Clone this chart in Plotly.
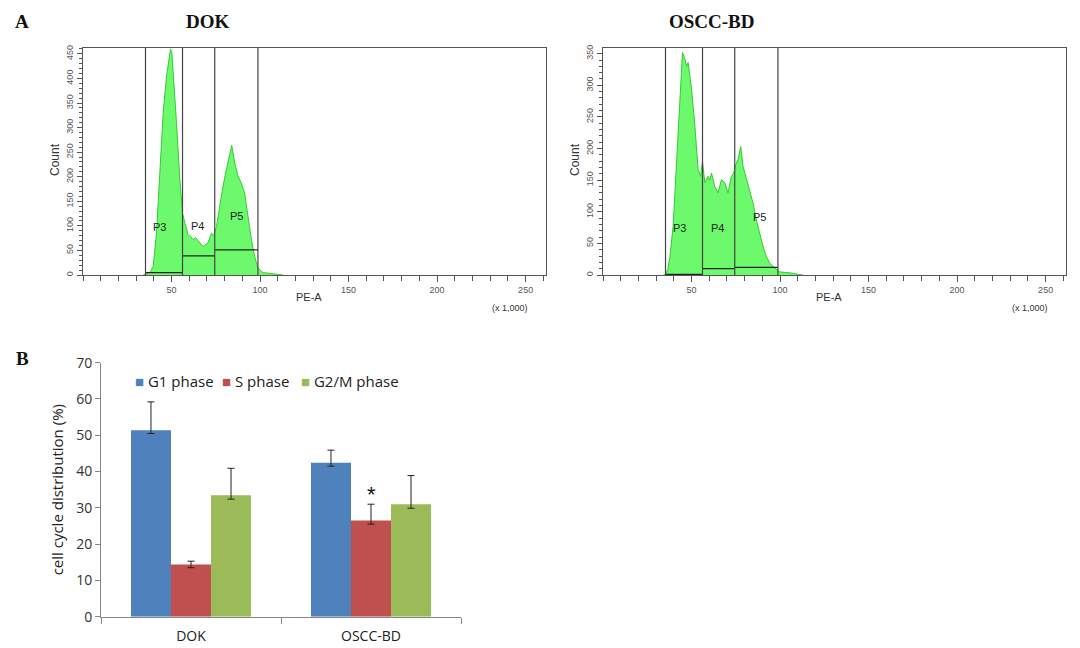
import plotly.graph_objects as go

# ---------------- Data ----------------
# Flow-cytometry histograms (PE-A x 1,000 vs Count)
dok_pe = [34, 36, 38, 39.6, 41.5, 43.4, 45.3, 47.2, 48.5, 49.4, 50.2, 50.9, 52.8, 54.7, 56.2,
          57.5, 59.4, 60.8, 62.2, 63.6, 65, 66.4, 67.8, 69.2, 70.6, 72.5, 73.8, 75.4, 77.2,
          79.1, 81, 82.9, 84, 85.7, 87.6, 89.4, 91.3, 93.2, 95.1, 97, 98.8, 101.6, 104, 107,
          110, 113]
dok_count = [0, 2, 6, 17, 85, 208, 331, 405, 440, 460, 452, 419, 310, 194, 126,
             106, 82, 78, 72, 76, 70, 66, 58, 62, 65, 85, 80, 99, 140,
             181, 215, 249, 264, 228, 201, 187, 167, 119, 72, 37, 14, 5, 4, 3,
             1, 0]

oscc_pe = [34, 35, 36.5, 37.8, 39.6, 41.5, 43.4, 44.9, 46.2, 47.2, 48.1, 49, 50, 51.9, 53.7,
           55.1, 56.2, 57.5, 59.4, 60.3, 61.3, 63.1, 65, 66.9, 68.8, 70.6, 72.5, 73.8, 75,
           76.3, 77.8, 79.1, 81, 82.9, 84.7, 86.6, 88.5, 90.4, 92.3, 94.1, 97, 99.8, 103,
           107, 110, 113]
oscc_count = [0, 0, 8, 29, 77, 172, 278, 352, 342, 330, 336, 318, 294, 236, 167,
              156, 180, 146, 156, 150, 161, 140, 130, 151, 146, 130, 156, 161, 175,
              183, 203, 172, 151, 130, 114, 87, 66, 45, 29, 19, 11, 5, 4,
              3, 1, 0]

gate_names = ["P3", "P4", "P5"]
gate_edges = [35.3, 56.2, 74.4, 98.8]
dok_gate_levels = [5, 39, 51]
oscc_gate_levels = [1, 10, 12]
dok_gate_label_pos = [(43.4, 98), (64.8, 100), (86.8, 121)]
oscc_gate_label_pos = [(43.4, 75), (64.8, 75), (88.5, 92)]

hist_ticks = [50, 100, 150, 200, 250]

# Bar chart (cell cycle distribution %)
groups = ["DOK", "OSCC-BD"]
phases = ["G1 phase", "S phase", "G2/M phase"]
g1_vals = [51.4, 42.4]
s_vals = [14.4, 26.5]
g2m_vals = [33.5, 31.0]
g1_err_up = [7.8, 3.5]
g1_err_dn = [0.9, 0.9]
s_err_up = [0.9, 4.5]
s_err_dn = [0.9, 1.0]
g2m_err_up = [7.4, 7.9]
g2m_err_dn = [1.1, 1.1]
phase_colors = ["#4F81BD", "#C0504D", "#9BBB59"]

# ---------------- Figure ----------------
OFF = 8                      # default page body margin
W, H = 1080 - 2 * OFF, 648 - OFF
fig = go.Figure()

def px_x(p):
    return (p - OFF) / W

def px_y(p):
    return 1 - (p - OFF) / H

fill_col = "rgba(108,250,108,1)"
line_col = "#33CC33"

# Histograms
for xs, ys, xa, ya in [(dok_pe, dok_count, "x", "y"), (oscc_pe, oscc_count, "x2", "y2")]:
    fig.add_trace(go.Scatter(x=xs, y=ys, xaxis=xa, yaxis=ya, mode="lines",
                             fill="tozeroy", fillcolor=fill_col,
                             line=dict(color=line_col, width=1), showlegend=False,
                             hoverinfo="skip"))

# Gate horizontal bars
for levels, xa, ya in [(dok_gate_levels, "x", "y"), (oscc_gate_levels, "x2", "y2")]:
    for i, lv in enumerate(levels):
        fig.add_trace(go.Scatter(x=[gate_edges[i], gate_edges[i + 1]], y=[lv, lv],
                                 xaxis=xa, yaxis=ya, mode="lines",
                                 line=dict(color="#222222", width=1.2),
                                 showlegend=False, hoverinfo="skip"))

# Gate vertical lines
for xa, ya in [("x", "y"), ("x2", "y2")]:
    for e in gate_edges:
        fig.add_shape(type="line", xref=xa, yref=ya + " domain", x0=e, x1=e, y0=0, y1=1,
                      line=dict(color="#444444", width=1.2))

# Gate labels
for pos, xa, ya in [(dok_gate_label_pos, "x", "y"), (oscc_gate_label_pos, "x2", "y2")]:
    for name, (gx, gy) in zip(gate_names, pos):
        fig.add_annotation(x=gx, y=gy, xref=xa, yref=ya, text=name, showarrow=False,
                           xanchor="center", yanchor="middle",
                           font=dict(family="Liberation Sans", size=11, color="#222222"))

# Bar chart
bar_sets = [(g1_vals, g1_err_up, g1_err_dn), (s_vals, s_err_up, s_err_dn),
            (g2m_vals, g2m_err_up, g2m_err_dn)]
for name, col, (vals, up, dn) in zip(phases, phase_colors, bar_sets):
    fig.add_trace(go.Bar(x=groups, y=vals, name=name, marker=dict(color=col, line=dict(width=0)),
                         xaxis="x3", yaxis="y3", showlegend=False,
                         error_y=dict(type="data", symmetric=False, array=up, arrayminus=dn,
                                      color="#222222", thickness=1, width=3.5)))

# Legend drawn as coloured squares + labels
legend_x = [133, 220, 299]
for name, col, lx in zip(phases, phase_colors, legend_x):
    fig.add_annotation(x=px_x(lx), y=px_y(381), xref="paper", yref="paper", xanchor="left",
                       yanchor="middle",
                       text=f'<span style="color:{col}">■</span> {name}', showarrow=False,
                       font=dict(family="Open Sans", size=15, color="#222222"))

fig.add_annotation(x=px_x(371), y=px_y(494), xref="paper", yref="paper", text="*",
                   xanchor="center", yanchor="middle",
                   showarrow=False, font=dict(family="Liberation Sans", size=22, color="#111111"))

hist_tick_font = dict(family="Liberation Sans", size=9, color="#555555")
axis_line = "#555555"

def hist_x(domain):
    return dict(domain=domain, range=[0, 261.5], tickmode="array", tickvals=hist_ticks,
                ticks="outside", ticklen=6, tickcolor=axis_line, showline=True,
                linecolor=axis_line, linewidth=1, mirror=True, showgrid=False,
                zeroline=False, tickfont=hist_tick_font, automargin=False,
                minor=dict(tickmode="linear", tick0=0, dtick=10, ticks="outside",
                           ticklen=5, tickcolor=axis_line))

def hist_y(domain, top, anchor):
    return dict(domain=domain, range=[0, top], dtick=50, tick0=0, tickangle=-90,
                ticks="outside", ticklen=5, tickcolor=axis_line, showline=True,
                linecolor=axis_line, linewidth=1, mirror=True, showgrid=False,
                zeroline=False, tickfont=hist_tick_font, anchor=anchor, automargin=False,
                minor=dict(tickmode="linear", tick0=0, dtick=10, ticks="outside",
                           ticklen=3, tickcolor=axis_line))

hy = [px_y(275), px_y(48)]
fig.update_layout(
    width=W, height=H, margin=dict(l=0, r=0, t=0, b=0, autoexpand=False),
    paper_bgcolor="white", plot_bgcolor="white", showlegend=False,
    xaxis=dict(**hist_x([px_x(83), px_x(546)]), anchor="y"),
    yaxis=hist_y(hy, 462, "x"),
    xaxis2=dict(**hist_x([px_x(603), px_x(1066)]), anchor="y2"),
    yaxis2=hist_y(hy, 359, "x2"),
    xaxis3=dict(domain=[px_x(101), px_x(461)], anchor="y3", showline=True, automargin=False,
                linecolor="#868686", linewidth=1, ticks="outside", tickson="boundaries",
                ticklen=6, tickcolor="#868686", showgrid=False, ticklabelstandoff=6,
                tickfont=dict(family="Open Sans", size=14, color="#222222")),
    yaxis3=dict(domain=[px_y(616.7), px_y(362.7)], anchor="x3", range=[0, 70], dtick=10,
                showline=True, linecolor="#868686", linewidth=1, ticks="outside",
                ticklen=5, tickcolor="#868686", showgrid=False, zeroline=False,
                automargin=False,
                tickfont=dict(family="Open Sans", size=14, color="#333333"),
                title=dict(text="cell cycle distribution (%)", standoff=8,
                           font=dict(family="Open Sans", size=15, color="#222222"))),
    barmode="group", bargap=0.333, bargroupgap=0,
)

# Text labels
texts = [
    ("A", 22, 22, dict(family="Liberation Serif", size=19, color="#111111"), True, 0),
    ("B", 22, 358, dict(family="Liberation Serif", size=19, color="#111111"), True, 0),
    ("DOK", 208, 22, dict(family="Liberation Serif", size=19, color="#111111"), True, 0),
    ("OSCC-BD", 712, 22, dict(family="Liberation Serif", size=19, color="#111111"), True, 0),
    ("PE-A", 309, 297, dict(family="Liberation Sans", size=11, color="#333333"), False, 0),
    ("PE-A", 829, 297, dict(family="Liberation Sans", size=11, color="#333333"), False, 0),
    ("(x 1,000)", 510, 308, dict(family="Liberation Sans", size=9, color="#333333"), False, 0),
    ("(x 1,000)", 1030, 308, dict(family="Liberation Sans", size=9, color="#333333"), False, 0),
    ("Count", 55, 160, dict(family="Liberation Sans", size=12, color="#333333"), False, -90),
    ("Count", 575, 160, dict(family="Liberation Sans", size=12, color="#333333"), False, -90),
]
for t, x, y, f, bold, ang in texts:
    fig.add_annotation(x=px_x(x), y=px_y(y), xref="paper", yref="paper",
                       xanchor="center", yanchor="middle",
                       text=f"<b>{t}</b>" if bold else t, showarrow=False, font=f,
                       textangle=ang)

fig.write_html("out.html")
